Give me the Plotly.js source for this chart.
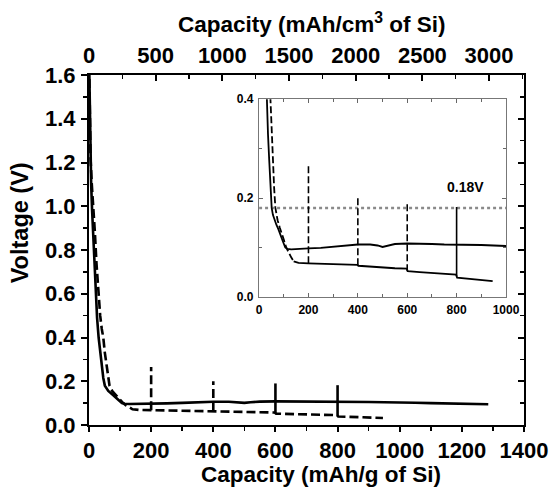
<!DOCTYPE html>
<html>
<head>
<meta charset="utf-8">
<script src="https://cdn.plot.ly/plotly-3.0.1.min.js"></script>
<style>html,body{margin:0;padding:0;background:#fff;}#chart{width:550px;height:487px;}</style>
</head>
<body>
<div id="chart"></div>
<script>
// ---- Data ----
// Solid curve: capacity (mAh/g of Si) vs voltage (V)
var solidX = [0, 2, 4, 7, 10, 14, 18, 22, 26, 31, 36, 41, 46, 51, 56, 62, 70, 78, 85, 95, 106, 115, 130, 150, 175, 200, 250, 300, 350, 400, 450, 480, 500, 520, 550, 600, 650, 700, 750, 800, 850, 900, 950, 1000, 1050, 1100, 1150, 1200, 1250, 1285];
var solidY = [1.70, 1.45, 1.25, 1.10, 0.98, 0.85, 0.72, 0.60, 0.49, 0.40, 0.33, 0.277, 0.215, 0.180, 0.166, 0.156, 0.146, 0.137, 0.129, 0.114, 0.100, 0.097, 0.096, 0.097, 0.097, 0.098, 0.099, 0.101, 0.104, 0.106, 0.106, 0.104, 0.101, 0.104, 0.107, 0.108, 0.108, 0.107, 0.106, 0.106, 0.105, 0.105, 0.104, 0.104, 0.102, 0.100, 0.099, 0.098, 0.096, 0.095];
// Dashed curve
var dashedX = [0, 2, 5, 9, 14, 19, 24, 30, 36, 41, 46, 51, 56, 61, 66, 75, 84, 92, 100, 110, 119, 130, 140, 160, 200, 250, 300, 350, 398, 402, 450, 500, 550, 598, 602, 650, 700, 750, 798, 802, 850, 900, 946];
var dashedY = [1.70, 1.40, 1.22, 1.10, 1.00, 0.88, 0.74, 0.60, 0.50, 0.44, 0.40, 0.33, 0.277, 0.22, 0.18, 0.155, 0.140, 0.130, 0.116, 0.100, 0.090, 0.080, 0.072, 0.069, 0.068, 0.067, 0.066, 0.065, 0.065, 0.063, 0.061, 0.059, 0.058, 0.057, 0.052, 0.050, 0.048, 0.046, 0.045, 0.039, 0.037, 0.034, 0.032];
// Relaxation spikes
var spikeX = [200, 400, 600, 800];
var spikeTop = [0.265, 0.200, 0.190, 0.182];
var spikeBase = [0.068, 0.064, 0.052, 0.042];
// Reference voltage
var refV = 0.18;
var refLabel = '0.18V';
// Axes
var mainXTicks = [0, 200, 400, 600, 800, 1000, 1200, 1400];
var mainYTicks = [0, 0.2, 0.4, 0.6, 0.8, 1.0, 1.2, 1.4, 1.6];
var topTicks = [0, 500, 1000, 1500, 2000, 2500, 3000];
var insetXTicks = [0, 200, 400, 600, 800, 1000];
var insetYTicks = [0, 0.2, 0.4];
var siDensity = 2.33; // g/cm3, links the two capacity scales
var xMax = 1400, yMax = 1.6, insetXMax = 1000, insetYMax = 0.4;

// ---- Traces ----
var traces = [];
traces.push({x: solidX, y: solidY, mode: 'lines', line: {color: '#000', width: 2.6}, xaxis: 'x', yaxis: 'y', hoverinfo: 'skip'});
traces.push({x: dashedX, y: dashedY, mode: 'lines', line: {color: '#000', width: 2.6, dash: '9px,4px'}, xaxis: 'x', yaxis: 'y', hoverinfo: 'skip'});
spikeX.forEach(function (sx, i) {
  traces.push({x: [sx, sx], y: [spikeBase[i], spikeTop[i]], mode: 'lines',
    line: {color: '#000', width: 2.6, dash: i < 2 ? '9px,4px' : 'solid'}, xaxis: 'x', yaxis: 'y', hoverinfo: 'skip'});
});
// dummy for top / right axes
traces.push({x: [null], y: [null], xaxis: 'x2', yaxis: 'y2', hoverinfo: 'skip'});

// inset
var descX = [], descY = [], platX = [], platY = [];
dashedX.forEach(function (v, i) {
  if (v <= 140) { descX.push(v); descY.push(dashedY[i]); }
  if (v >= 140) { platX.push(v); platY.push(dashedY[i]); }
});
traces.push({x: [0, insetXMax], y: [refV, refV], mode: 'lines', line: {color: '#8a8a8a', width: 2.5, dash: 'dot'}, xaxis: 'x3', yaxis: 'y3', hoverinfo: 'skip'});
traces.push({x: solidX, y: solidY, mode: 'lines', line: {color: '#000', width: 1.8}, xaxis: 'x3', yaxis: 'y3', hoverinfo: 'skip'});
traces.push({x: descX, y: descY, mode: 'lines', line: {color: '#000', width: 1.8, dash: '7px,3px'}, xaxis: 'x3', yaxis: 'y3', hoverinfo: 'skip'});
traces.push({x: platX, y: platY, mode: 'lines', line: {color: '#000', width: 1.8}, xaxis: 'x3', yaxis: 'y3', hoverinfo: 'skip'});
spikeX.forEach(function (sx, i) {
  traces.push({x: [sx, sx], y: [spikeBase[i], spikeTop[i]], mode: 'lines',
    line: {color: '#000', width: 1.6, dash: i < 3 ? '7px,3px' : 'solid'}, xaxis: 'x3', yaxis: 'y3', hoverinfo: 'skip'});
});

var F = 'Liberation Sans, Arial, Helvetica, sans-serif';
var tickFont = {family: F, size: 22, color: '#000', weight: 'bold'};
var insetFont = {family: F, size: 12, color: '#000', weight: 'bold'};
var titleFont = {family: F, size: 22.5, color: '#000', weight: 'bold'};

var layout = {
  width: 550, height: 487,
  margin: {l: 89, r: 26, t: 75, b: 62},
  paper_bgcolor: '#fff', plot_bgcolor: 'rgba(0,0,0,0)',
  showlegend: false,
  font: {family: F, color: '#000'},
  xaxis: {
    range: [0, xMax], tickvals: mainXTicks, ticktext: mainXTicks.map(String),
    ticks: 'outside', ticklen: 5, tickwidth: 2, tickcolor: '#000',
    minor: {dtick: 100, ticks: 'outside', ticklen: 4, tickwidth: 1.5, tickcolor: '#000'},
    showline: true, linecolor: '#000', linewidth: 2, showgrid: false, zeroline: false,
    tickfont: tickFont, ticklabelstandoff: 0, domain: [0, 1], anchor: 'y'
  },
  xaxis2: {
    overlaying: 'x', side: 'top', anchor: 'y', range: [0, xMax * siDensity],
    tickvals: topTicks, ticktext: topTicks.map(String),
    ticks: 'inside', ticklen: 6, tickwidth: 2, tickcolor: '#000',
    minor: {dtick: 250, ticks: 'inside', ticklen: 4, tickwidth: 1.5, tickcolor: '#000'},
    showline: true, linecolor: '#000', linewidth: 2, showgrid: false, zeroline: false,
    tickfont: tickFont, ticklabelstandoff: 1
  },
  yaxis: {
    range: [0, yMax], tickvals: mainYTicks, ticktext: mainYTicks.map(function (v) { return v.toFixed(1); }),
    ticks: 'outside', ticklen: 6, tickwidth: 2, tickcolor: '#000',
    minor: {dtick: 0.1, ticks: 'outside', ticklen: 4, tickwidth: 1.5, tickcolor: '#000'},
    showline: true, linecolor: '#000', linewidth: 2, showgrid: false, zeroline: false,
    tickfont: tickFont, ticklabelstandoff: 1, domain: [0, 1], anchor: 'x'
  },
  yaxis2: {
    overlaying: 'y', side: 'right', anchor: 'x', range: [0, yMax],
    tickvals: mainYTicks, showticklabels: false,
    ticks: 'inside', ticklen: 6, tickwidth: 2, tickcolor: '#000',
    minor: {dtick: 0.1, ticks: 'inside', ticklen: 4, tickwidth: 1.5, tickcolor: '#000'},
    showline: true, linecolor: '#000', linewidth: 2, showgrid: false, zeroline: false
  },
  xaxis3: {
    domain: [0.391, 0.9586], anchor: 'y3', range: [0, insetXMax],
    tickvals: insetXTicks, ticktext: insetXTicks.map(String),
    ticks: 'inside', ticklen: 4, tickwidth: 1, tickcolor: '#666',
    minor: {dtick: 100, ticks: 'inside', ticklen: 3, tickwidth: 1, tickcolor: '#666'},
    showline: true, linecolor: '#777', linewidth: 1.2, mirror: 'ticks',
    showgrid: false, zeroline: false, tickfont: insetFont, ticklabelstandoff: 1
  },
  yaxis3: {
    domain: [0.366, 0.931], anchor: 'x3', range: [0, insetYMax],
    tickvals: insetYTicks, ticktext: insetYTicks.map(function (v) { return v.toFixed(1); }),
    ticks: 'inside', ticklen: 4, tickwidth: 1, tickcolor: '#666',
    minor: {dtick: 0.1, ticks: 'inside', ticklen: 3, tickwidth: 1, tickcolor: '#666'},
    showline: true, linecolor: '#777', linewidth: 1.2, mirror: 'ticks',
    showgrid: false, zeroline: false, tickfont: insetFont, ticklabelstandoff: 2
  },
  annotations: [
    {text: 'Capacity (mAh/cm<sup>3</sup> of Si)', xref: 'paper', yref: 'paper', x: 0.5126, y: 1.148,
     xanchor: 'center', yanchor: 'middle', showarrow: false, font: titleFont},
    {text: 'Capacity (mAh/g of Si)', xref: 'paper', yref: 'paper', x: 0.533, y: -0.141,
     xanchor: 'center', yanchor: 'middle', showarrow: false, font: titleFont},
    {text: 'Voltage (V)', xref: 'paper', yref: 'paper', x: -0.158, y: 0.577, textangle: -90,
     xanchor: 'center', yanchor: 'middle', showarrow: false, font: {family: F, size: 23.5, color: '#000', weight: 'bold'}},
    {text: refLabel, xref: 'x3', yref: 'y3', x: 834, y: 0.222, xanchor: 'center', yanchor: 'middle',
     showarrow: false, font: {family: F, size: 14, color: '#000', weight: 'bold'}}
  ]
};

Plotly.newPlot('chart', traces, layout, {staticPlot: true, displayModeBar: false});
</script>
</body>
</html>
